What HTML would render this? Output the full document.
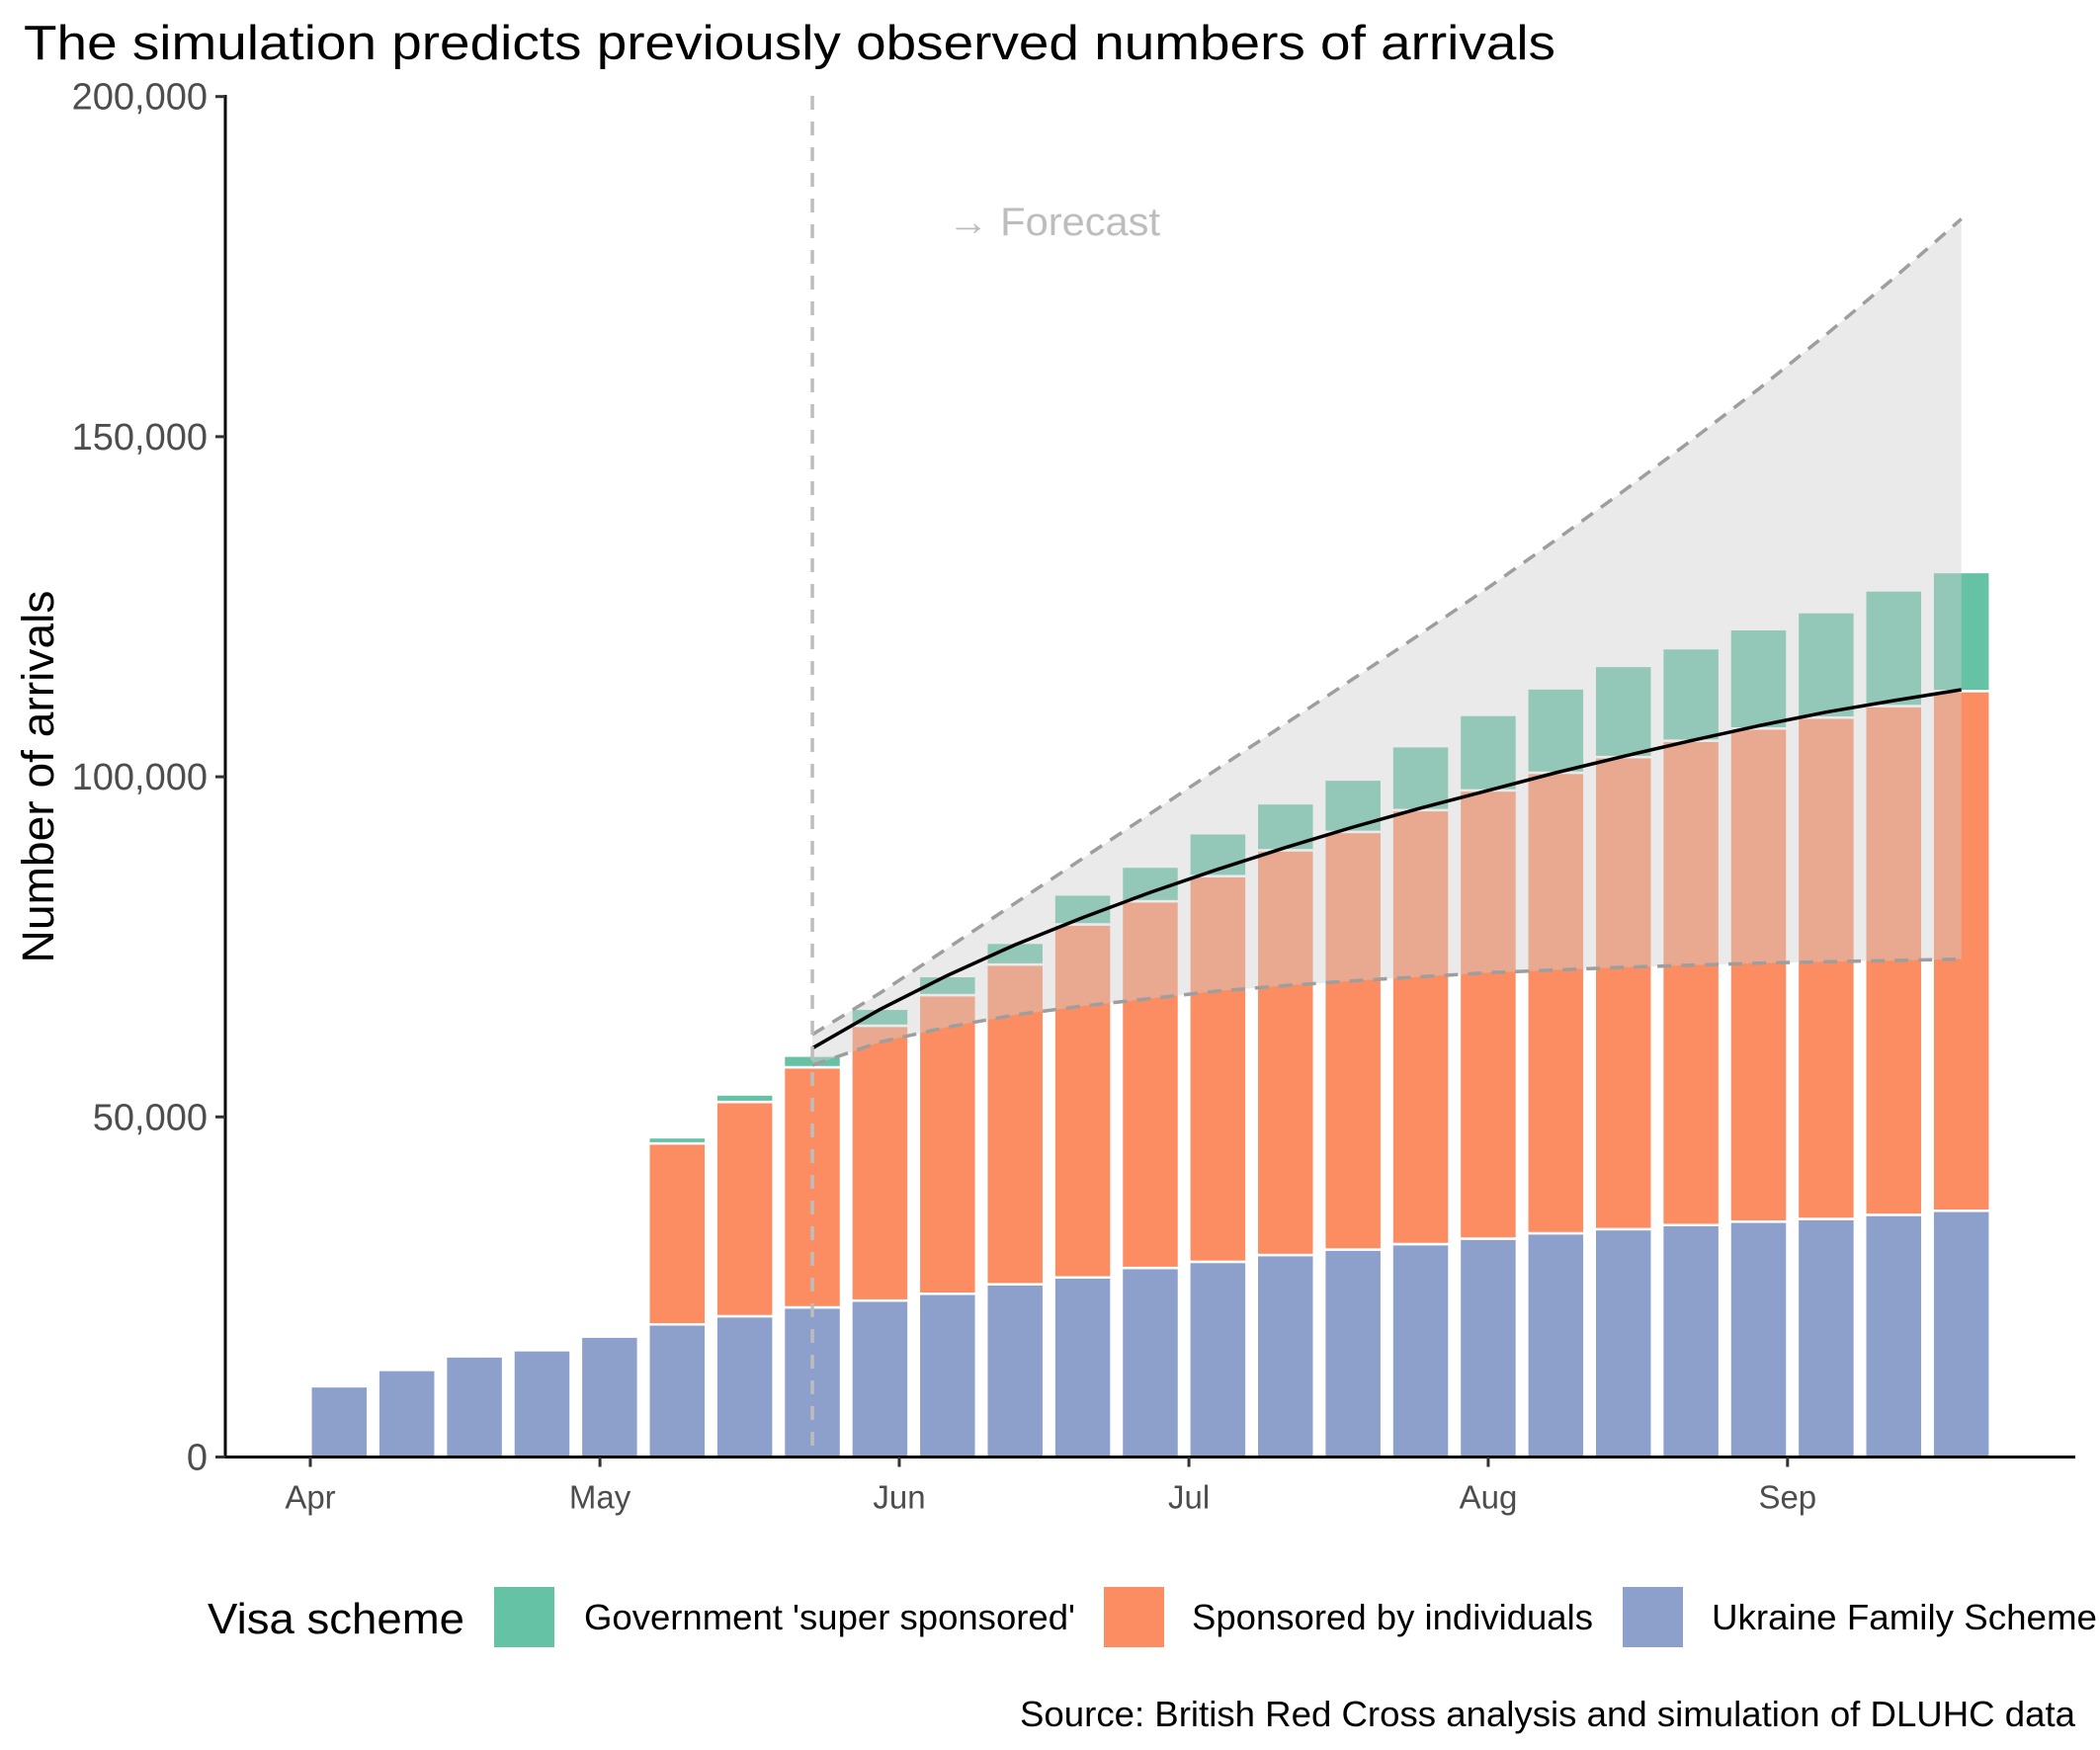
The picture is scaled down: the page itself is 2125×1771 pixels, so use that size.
<!DOCTYPE html>
<html><head><meta charset="utf-8"><style>
html,body{margin:0;padding:0;background:#fff}
svg{display:block;font-family:"Liberation Sans",Arial,sans-serif}
</style></head><body>
<svg id="chart" width="2125" height="1771" viewBox="0 0 2125 1771" xmlns="http://www.w3.org/2000/svg">
<text x="24" y="60" font-size="49" fill="#000" textLength="1550" lengthAdjust="spacingAndGlyphs">The simulation predicts previously observed numbers of arrivals</text>
<g id="bars"></g>
<g id="ribbon"></g>
<g id="axes"></g>
<text x="959" y="238" font-size="40" fill="#bdbdbd" textLength="215" lengthAdjust="spacingAndGlyphs">→ Forecast</text>
<text transform="translate(54,786) rotate(-90)" text-anchor="middle" font-size="45" fill="#000" textLength="377" lengthAdjust="spacingAndGlyphs">Number of arrivals</text>
<g>
<text x="210" y="1653" font-size="44" fill="#000" textLength="260" lengthAdjust="spacingAndGlyphs">Visa scheme</text>
<rect x="500" y="1606" width="61" height="61" fill="#66c2a5"/>
<text x="591" y="1649" font-size="36" fill="#000" textLength="497" lengthAdjust="spacingAndGlyphs">Government 'super sponsored'</text>
<rect x="1117" y="1606" width="61" height="61" fill="#fc8d62"/>
<text x="1206" y="1649" font-size="36" fill="#000" textLength="406" lengthAdjust="spacingAndGlyphs">Sponsored by individuals</text>
<rect x="1642" y="1606" width="61" height="61" fill="#8da0cb"/>
<text x="1732" y="1649" font-size="36" fill="#000" textLength="390" lengthAdjust="spacingAndGlyphs">Ukraine Family Scheme</text>
</g>
<text x="2100" y="1747" text-anchor="end" font-size="36" fill="#000" textLength="1068" lengthAdjust="spacingAndGlyphs">Source: British Red Cross analysis and simulation of DLUHC data</text>
</svg>
<script>
const family = [10.4,12.8,14.8,15.7,17.7,19.5,20.7,22,23,24,25.4,26.4,27.8,28.7,29.7,30.5,31.3,32.1,32.9,33.5,34.1,34.6,35,35.6,36.2];
const individualsTop = [0,0,0,0,0,46.1,52.2,57.3,63.4,67.9,72.4,78.3,81.7,85.4,89.2,91.9,95.1,98,100.6,102.9,105.3,107.1,108.7,110.4,112.6];
const governmentTop = [0,0,0,0,0,47,53.3,59,65.9,70.7,75.6,82.7,86.8,91.7,96.1,99.6,104.5,109.1,113,116.3,118.9,121.7,124.2,127.4,130.1];
const forecastDays = [52,59,66,73,80,87,94,101,108,115,122,129,136,143,150,157,164,171];
const forecastUpper = [62.1,68.2,74.8,81.4,88,94.6,101.2,107.8,114.4,121,127.8,134.8,142,149.4,157,165,173.3,182];
const forecastLower = [57.6,61,63.2,65,66.3,67.4,68.5,69.3,70,70.6,71.2,71.6,72,72.3,72.6,72.8,73,73.2];
const forecastMedian = [60.1,65.8,70.8,75.3,79.3,83,86.4,89.6,92.6,95.4,98,100.6,103,105.3,107.5,109.5,111.2,112.8];
const yTicks = [0,50000,100000,150000,200000];
const yTickLabels = ["0","50,000","100,000","150,000","200,000"];
const monthDays = [0,30,61,91,122,153];
const monthLabels = ["Apr","May","Jun","Jul","Aug","Sep"];
const firstBarDay = 3, forecastStartDay = 52;

const NS="http://www.w3.org/2000/svg";
const X0=314, PX_DAY=9.77, Y0=1474.5, PX_K=344.2/50;
const xd=d=>X0+d*PX_DAY;
const yk=v=>Y0-v*PX_K;
function mk(tag,attrs,parent){const e=document.createElementNS(NS,tag);for(const k in attrs)e.setAttribute(k,attrs[k]);parent.appendChild(e);return e;}
const gb=document.getElementById('bars'), gr=document.getElementById('ribbon'), ga=document.getElementById('axes');
const BW=58;
family.forEach((f,i)=>{
  const cx=xd(firstBarDay+7*i);
  const x=cx-BW/2;
  let r=mk('rect',{x:x,y:yk(f),width:BW,height:yk(0)-yk(f),fill:'#8da0cb',stroke:'#fff','stroke-width':2.5},gb);
  
  
  if(individualsTop[i]>0){
    r=mk('rect',{x:x,y:yk(individualsTop[i]),width:BW,height:yk(f)-yk(individualsTop[i]),fill:'#fc8d62',stroke:'#fff','stroke-width':2.5},gb);
    
    
  }
  if(governmentTop[i]>0){
    r=mk('rect',{x:x,y:yk(governmentTop[i]),width:BW,height:yk(individualsTop[i])-yk(governmentTop[i]),fill:'#66c2a5',stroke:'#fff','stroke-width':2.5},gb);
    
    
  }
});
const up=forecastDays.map((d,i)=>[xd(d),yk(forecastUpper[i])]);
const lo=forecastDays.map((d,i)=>[xd(d),yk(forecastLower[i])]);
const md=forecastDays.map((d,i)=>[xd(d),yk(forecastMedian[i])]);
const pts=a=>a.map(p=>p[0].toFixed(1)+','+p[1].toFixed(1)).join(' ');
let p=mk('polygon',{points:pts(up.concat(lo.slice().reverse())),fill:'rgb(207,207,207)','fill-opacity':0.43},gr);


p=mk('polyline',{points:pts(up),fill:'none',stroke:'#9e9e9e','stroke-width':3.5,'stroke-dasharray':'14,10'},gr);


p=mk('polyline',{points:pts(lo),fill:'none',stroke:'#9e9e9e','stroke-width':3.5,'stroke-dasharray':'14,10'},gr);


p=mk('polyline',{points:pts(md),fill:'none',stroke:'#000','stroke-width':3.5},gr);


p=mk('line',{x1:xd(forecastStartDay),x2:xd(forecastStartDay),y1:97,y2:Y0,stroke:'#bdbdbd','stroke-width':3.5,'stroke-dasharray':'14,12'},gr);


p=mk('line',{x1:228,x2:228,y1:96,y2:Y0+1.5,stroke:'#000','stroke-width':3},ga);


p=mk('line',{x1:226.5,x2:2100,y1:Y0,y2:Y0,stroke:'#000','stroke-width':3},ga);


yTicks.forEach((v,i)=>{
  const y=yk(v/1000);
  let t=mk('line',{x1:218,x2:228,y1:y,y2:y,stroke:'#333','stroke-width':3},ga);
  
  
  t=mk('text',{x:210,y:y+13,'text-anchor':'end','font-size':38,fill:'#4d4d4d'},ga);
  t.textContent=yTickLabels[i];
  
  
});
monthDays.forEach((d,i)=>{
  const x=xd(d);
  let t=mk('line',{x1:x,x2:x,y1:Y0,y2:Y0+10,stroke:'#333','stroke-width':3},ga);
  
  
  t=mk('text',{x:x,y:Y0+52,'text-anchor':'middle','font-size':33,fill:'#4d4d4d'},ga);
  t.textContent=monthLabels[i];
  
  
});
</script>
</body></html>
